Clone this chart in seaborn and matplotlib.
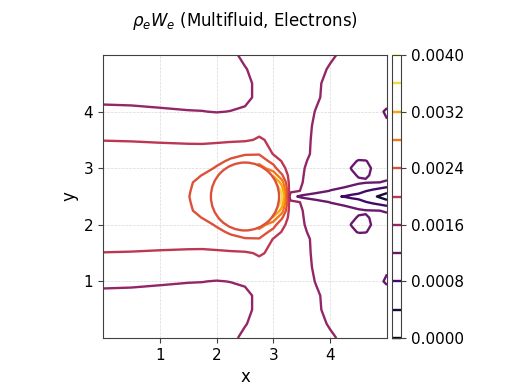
import numpy as np
import matplotlib
matplotlib.use("Agg")
import matplotlib.pyplot as plt
from matplotlib.patches import Circle
import seaborn as sns

# Grid nodes. The field is symmetric about y = 2.5, so only the upper half is listed.
x_nodes = [0.0, 0.5, 1.0, 1.5, 1.75, 2.0, 2.25, 2.5, 2.75, 3.0, 3.15, 3.3, 3.5, 3.75,
           4.0, 4.25, 4.375, 4.5, 4.625, 4.75, 5.0]
y_upper = [2.5, 2.6, 2.75, 2.875, 3.0, 3.125, 3.25, 3.5, 3.75, 4.0, 4.25, 4.5, 4.75, 5.0]

# rho_e W_e, units of 1e-4, one row per y node
w_y250 = [22.4, 22.4, 22.7, 23.9, 25.1, 27.0, 28.0, 30.0, 36.0, 46.0, 37.0, 13.5, 11.0, 9.8, 8.7, 7.8, 6.9, 6.0, 5.3, 4.6, 2.5]
w_y260 = [22.3, 22.3, 22.6, 23.8, 25.0, 27.0, 28.0, 30.0, 35.0, 42.0, 35.0, 17.0, 15.8, 13.5, 11.9, 11.0, 10.5, 10.0, 8.2, 7.3, 5.0]
w_y275 = [22.0, 22.0, 22.3, 23.6, 24.8, 27.0, 27.0, 29.0, 33.0, 38.0, 30.0, 17.5, 16.1, 14.5, 13.6, 13.4, 12.9, 12.4, 12.2, 12.1, 11.9]
w_y288 = [21.65, 21.65, 21.85, 22.7, 24.1, 25.5, 26.5, 28.0, 31.5, 31.0, 24.5, 18.0, 16.2, 14.65, 13.8, 13.1, 12.4, 11.8, 11.8, 12.2, 12.25]
w_y300 = [21.3, 21.3, 21.4, 21.8, 22.6, 24.4, 26.0, 27.0, 30.0, 25.5, 21.0, 18.5, 16.3, 14.8, 14.0, 12.8, 11.9, 11.2, 11.4, 12.2, 12.6]
w_y312 = [21.1, 21.07, 21.1, 21.3, 21.8, 23.1, 24.6, 25.5, 26.5, 22.6, 19.8, 18.4, 16.5, 15.1, 14.15, 13.0, 12.5, 11.8, 11.9, 12.5, 12.7]
w_y325 = [20.9, 20.85, 20.8, 20.8, 21.0, 21.8, 23.0, 23.8, 23.8, 19.8, 19.0, 18.3, 16.8, 15.4, 14.3, 13.6, 13.3, 13.1, 13.0, 12.9, 12.8]
w_y350 = [19.95, 19.9, 19.8, 19.7, 19.6, 19.5, 19.5, 19.6, 20.3, 19.5, 18.9, 18.2, 17.0, 15.4, 14.3, 13.6, 13.3, 13.0, 12.85, 12.7, 12.5]
w_y375 = [18.4, 18.35, 18.2, 18.0, 17.9, 17.7, 17.8, 18.2, 19.0, 19.0, 18.6, 18.0, 17.0, 15.6, 14.4, 13.6, 13.3, 13.0, 12.8, 12.6, 12.2]
w_y400 = [16.6, 16.5, 16.3, 16.1, 16.05, 15.9, 16.05, 16.3, 17.2, 17.6, 17.6, 17.5, 17.0, 15.9, 14.8, 13.9, 13.55, 13.2, 12.9, 12.6, 11.8]
w_y425 = [15.4, 15.35, 15.2, 15.1, 15.1, 15.1, 15.2, 15.5, 16.5, 17.0, 17.1, 17.1, 16.9, 16.3, 15.3, 14.5, 14.05, 13.6, 13.3, 13.0, 12.6]
w_y450 = [14.6, 14.7, 14.9, 15.1, 15.3, 15.4, 15.6, 15.7, 16.3, 16.9, 17.0, 17.0, 16.8, 16.3, 15.5, 14.8, 14.5, 14.2, 13.9, 13.6, 13.2]
w_y475 = [14.0, 14.1, 14.3, 14.6, 14.9, 15.2, 15.5, 15.9, 16.6, 17.0, 17.1, 17.1, 17.0, 16.6, 15.8, 15.2, 14.9, 14.6, 14.4, 14.2, 13.8]
w_y500 = [13.5, 13.6, 13.8, 14.2, 14.5, 15.0, 15.6, 16.4, 17.0, 17.2, 17.2, 17.2, 17.0, 16.8, 16.3, 15.6, 15.3, 15.0, 14.75, 14.5, 14.0]

levels = [0.0, 0.0004, 0.0008, 0.0012, 0.0016, 0.0020, 0.0024, 0.0028, 0.0032, 0.0036, 0.0040]
cbar_ticks = [0.0, 0.0008, 0.0016, 0.0024, 0.0032, 0.0040]

# cylinder in the middle of the domain
obstacle_center = (2.5, 2.5)
obstacle_radius = 0.6

# Build the full field by mirroring the upper half
upper = np.array([w_y250, w_y260, w_y275, w_y288, w_y300, w_y312, w_y325, w_y350,
                  w_y375, w_y400, w_y425, w_y450, w_y475, w_y500]) * 1e-4
field = np.vstack([upper[:0:-1], upper])
y_nodes = np.concatenate([2 * obstacle_center[1] - np.array(y_upper[:0:-1]), y_upper])

sns.set_theme(style="ticks", rc={
    "axes.edgecolor": "0.25",
    "axes.linewidth": 0.8,
    "axes.labelcolor": "black",
    "text.color": "black",
    "xtick.color": "0.25",
    "ytick.color": "0.25",
    "xtick.labelcolor": "black",
    "ytick.labelcolor": "black",
    "xtick.major.size": 3.5,
    "ytick.major.size": 3.5,
    "xtick.major.width": 0.8,
    "ytick.major.width": 0.8,
    "xtick.major.pad": 3.5,
    "ytick.major.pad": 3.5,
})
plt.rcParams["font.family"] = ["DejaVu Sans"]
plt.rcParams["xtick.labelsize"] = 11
plt.rcParams["ytick.labelsize"] = 11

fig = plt.figure(figsize=(5.14, 3.92), dpi=100)
ax = fig.add_axes([103 / 514, 54 / 392, 284 / 514, 283 / 392])
cax = fig.add_axes([392 / 514, 54 / 392, 9 / 514, 283 / 392])

cs = ax.contour(x_nodes, y_nodes, field, levels=levels, cmap="inferno",
                vmin=levels[0], vmax=levels[-1], linewidths=1.7)
ax.add_patch(Circle(obstacle_center, obstacle_radius, facecolor="white",
                    edgecolor=cs.cmap(cs.norm(0.0024)), linewidth=1.7, zorder=3))

ax.set_xlim(0, 5)
ax.set_ylim(0, 5)
ax.set_xticks([1, 2, 3, 4])
ax.set_yticks([1, 2, 3, 4])
ax.grid(True, linestyle="--", linewidth=0.5, color="0.85")
ax.set_xlabel("x", fontsize=12)
ax.set_ylabel("y", fontsize=12)
ax.set_title(r"$\rho_e W_e$ (Multifluid, Electrons)", fontsize=12, pad=21)

cb = fig.colorbar(cs, cax=cax, ticks=cbar_ticks, format="%.4f")
cb.outline.set_edgecolor("0.25")
cb.outline.set_linewidth(0.8)

fig.savefig("out.png", dpi=100)
